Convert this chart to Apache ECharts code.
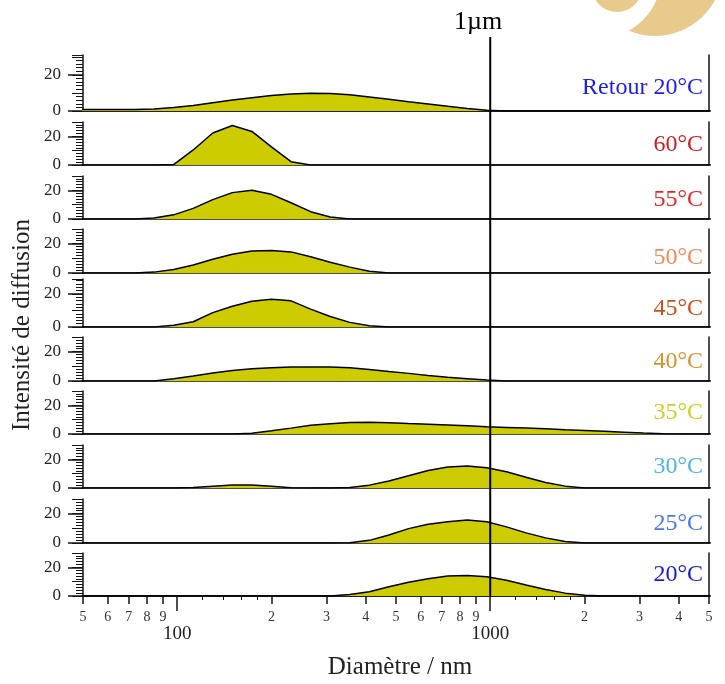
<!DOCTYPE html>
<html>
<head>
<meta charset="utf-8">
<script src="https://cdn.jsdelivr.net/npm/echarts@6/dist/echarts.min.js"></script>
<style>
  html, body { margin: 0; padding: 0; background: #fff; }
  #main { width: 725px; height: 684px; }
</style>
</head>
<body>
<div id="main"></div>
<script>
// diamètres (nm), grille commune des courbes
var diam = [47.4, 54.7, 63.2, 73.0, 84.3, 97.4, 112.5, 129.9, 150, 173.2, 200, 231, 266.8, 308.1, 355.9, 411, 474.7, 548.3,
            633.2, 731.3, 844.6, 975.5, 1127, 1301, 1503, 1736, 2005, 2315, 2674, 3088, 3567, 4119, 4757, 5494];

// intensités, de haut en bas
var vRetour20 = [0.8, 0.8, 0.8, 0.8, 1.1, 2.0, 3.1, 4.6, 6.1, 7.4, 8.6, 9.4, 9.8, 9.7, 9.0, 7.8, 6.5, 5.1, 3.9, 2.6, 1.4, 0.4, 0, 0, 0, 0, 0, 0, 0, 0, 0, 0, 0, 0];
var v60 = [0, 0, 0, 0, 0, 0.3, 10.5, 22.3, 27.6, 23.4, 12.6, 2.3, 0, 0, 0, 0, 0, 0, 0, 0, 0, 0, 0, 0, 0, 0, 0, 0, 0, 0, 0, 0, 0, 0];
var v55 = [0, 0, 0, 0, 0.7, 2.9, 7.4, 13.5, 18.4, 20.0, 17.2, 11.3, 5.1, 1.4, 0, 0, 0, 0, 0, 0, 0, 0, 0, 0, 0, 0, 0, 0, 0, 0, 0, 0, 0, 0];
var v50 = [0, 0, 0, 0, 0.6, 2.4, 5.4, 9.4, 12.8, 15.0, 15.4, 14.4, 11.1, 7.3, 4.0, 1.2, 0, 0, 0, 0, 0, 0, 0, 0, 0, 0, 0, 0, 0, 0, 0, 0, 0, 0];
var v45 = [0, 0, 0, 0, 0, 1.0, 3.2, 8.7, 12.5, 15.6, 16.7, 15.8, 10.8, 6.3, 2.8, 0.8, 0, 0, 0, 0, 0, 0, 0, 0, 0, 0, 0, 0, 0, 0, 0, 0, 0, 0];
var v40 = [0, 0, 0, 0, 0, 1.6, 3.4, 5.5, 7.2, 8.4, 9.1, 9.5, 9.6, 9.5, 9.0, 7.9, 6.5, 5.2, 3.8, 2.6, 1.6, 0.6, 0, 0, 0, 0, 0, 0, 0, 0, 0, 0, 0, 0];
var v35 = [0, 0, 0, 0, 0, 0, 0, 0, 0, 0.6, 2.3, 4.1, 6.1, 7.2, 8.0, 8.2, 7.9, 7.3, 6.8, 6.3, 5.8, 5.1, 4.6, 4.1, 3.6, 3.0, 2.5, 1.9, 1.3, 0.7, 0.2, 0, 0, 0];
var v30 = [0, 0, 0, 0, 0, 0, 0.3, 1.3, 2.1, 2.1, 1.3, 0.1, 0, 0, 0.3, 2.0, 4.9, 8.5, 12.2, 14.7, 15.3, 14.2, 11.3, 7.5, 3.8, 1.3, 0, 0, 0, 0, 0, 0, 0, 0];
var v25 = [0, 0, 0, 0, 0, 0, 0, 0, 0, 0, 0, 0, 0, 0, 0.2, 1.8, 5.5, 9.8, 12.8, 14.5, 15.6, 14.5, 11.0, 6.9, 3.5, 1.0, 0, 0, 0, 0, 0, 0, 0, 0];
var v20 = [0, 0, 0, 0, 0, 0, 0, 0, 0, 0, 0, 0, 0, 0, 1.0, 3.0, 6.4, 9.6, 12.0, 14.0, 14.3, 13.5, 11.0, 7.7, 4.5, 2.0, 0.5, 0, 0, 0, 0, 0, 0, 0];

var allValues = [vRetour20, v60, v55, v50, v45, v40, v35, v30, v25, v20];
var panelNames = ['Retour 20°C', '60°C', '55°C', '50°C', '45°C', '40°C', '35°C', '30°C', '25°C', '20°C'];

// graduations de l'axe des diamètres
var tickMid = [50, 60, 70, 80, 90, 200, 300, 400, 500, 600, 700, 800, 900, 2000, 3000, 4000, 5000];
var tickDecade = [100, 1000];
var tickSmall = [120, 140, 160, 180, 1200, 1400, 1600, 1800];
var yLabels = [0, 20];

// mise en page
var panelColors = ['#1c1cf0', '#cc1f24', '#e82424', '#f08a5c', '#d24c14', '#d6952c', '#cfcf26', '#52b2e2', '#4a78ee', '#1a1ad8'];
var panelTop = [55, 122, 176, 229, 279, 337, 391, 445, 499, 553];
var panelBase = [111, 165, 219, 273, 327, 381, 434, 488, 543, 596];
var panelMax = [31, 30, 30, 30, 29, 30, 30, 30, 30, 30];
var labelY = [88, 145, 200, 258, 309, 362, 413, 467, 524, 575];

var serif = 'Liberation Serif';
var ink = '#151515';
var n = panelNames.length;

var chart = echarts.init(document.getElementById('main'), null, {renderer: 'canvas'});

var grids = [], xAxes = [], yAxes = [], series = [];
for (var i = 0; i < n; i++) {
    grids.push({left: 83, right: 16, top: panelTop[i], height: panelBase[i] - panelTop[i], outerBoundsMode: 'none'});
    xAxes.push({
        gridIndex: i, type: 'log', logBase: 10, min: 50, max: 5000, position: 'bottom',
        axisLine: {show: true, onZero: false, lineStyle: {color: ink, width: 1.5}},
        axisTick: {show: false}, axisLabel: {show: false}, splitLine: {show: false}
    });
    // axe gauche avec graduations fines
    yAxes.push({
        gridIndex: i, type: 'value', min: 0, max: panelMax[i], interval: 10, position: 'left',
        axisLine: {show: true, lineStyle: {color: ink, width: 1.5}},
        axisTick: {show: true, length: 11, lineStyle: {color: ink, width: 1}},
        minorTick: {show: true, splitNumber: 5, length: 7, lineStyle: {color: ink, width: 1}},
        axisLabel: {
            margin: 22, fontSize: 17, fontFamily: serif, color: '#222',
            formatter: function (v) { return yLabels.indexOf(v) >= 0 ? String(v) : ''; }
        },
        splitLine: {show: false}
    });
    // graduations longues à 0 et 20
    yAxes.push({
        gridIndex: i, type: 'value', min: 0, max: panelMax[i], interval: 10, position: 'left',
        axisLine: {show: false},
        axisTick: {show: true, length: 15, customValues: yLabels, lineStyle: {color: ink, width: 1.5}},
        axisLabel: {show: false}, splitLine: {show: false}
    });
    // bord droit
    yAxes.push({
        gridIndex: i, type: 'value', min: 0, max: panelMax[i], position: 'right',
        axisLine: {show: true, lineStyle: {color: ink, width: 1.5}},
        axisTick: {show: false}, axisLabel: {show: false}, splitLine: {show: false}
    });
    series.push({
        type: 'line', xAxisIndex: i, yAxisIndex: 3 * i,
        data: diam.map(function (d, k) { return [d, allValues[i][k]]; }),
        symbol: 'none', clip: true,
        lineStyle: {color: '#000', width: 1.5},
        areaStyle: {color: '#cccc00', opacity: 1},
        z: 3
    });
}

// bord supérieur du premier panneau
xAxes.push({
    gridIndex: 0, type: 'log', min: 50, max: 5000, position: 'top',
    axisLine: {show: true, lineStyle: {color: ink, width: 1.5}},
    axisTick: {show: false}, axisLabel: {show: false}, splitLine: {show: false}
});

// axe des diamètres (dernier panneau)
var last = n - 1;
xAxes.push({
    gridIndex: last, type: 'log', min: 50, max: 5000, position: 'bottom', offset: 2,
    axisLine: {show: true, lineStyle: {color: ink, width: 1.5}},
    axisTick: {show: true, length: 8, customValues: tickMid, lineStyle: {color: ink, width: 1.5}},
    axisLabel: {
        show: true, customValues: tickMid, margin: 12, fontSize: 14, fontFamily: serif, color: '#333',
        formatter: function (v) { return String(Math.round(v / Math.pow(10, Math.floor(Math.log10(v) + 1e-9)))); }
    },
    splitLine: {show: false}
});
xAxes.push({
    gridIndex: last, type: 'log', min: 50, max: 5000, position: 'bottom', offset: 2,
    axisLine: {show: false},
    axisTick: {show: true, length: 15, customValues: tickDecade, lineStyle: {color: ink, width: 1.5}},
    axisLabel: {
        show: true, customValues: tickDecade, margin: 27, fontSize: 19, fontFamily: serif, color: '#222',
        formatter: function (v) { return String(Math.round(v)); }
    },
    splitLine: {show: false}
});
xAxes.push({
    gridIndex: last, type: 'log', min: 50, max: 5000, position: 'bottom', offset: 2,
    axisLine: {show: false},
    axisTick: {show: true, length: 4, customValues: tickSmall, lineStyle: {color: ink, width: 1}},
    axisLabel: {show: false}, splitLine: {show: false}
});

chart.setOption({
    backgroundColor: '#fff',
    animation: false,
    grid: grids,
    xAxis: xAxes,
    yAxis: yAxes,
    series: series
});

// ligne verticale 1 µm, placée avec l'échelle de l'axe
var x1um = chart.convertToPixel({xAxisIndex: 0}, 1000);

var graphics = [
    // logo en haut à droite
    {type: 'circle', shape: {cx: 655, cy: -32, r: 68}, style: {fill: '#e8ca8c'}, z: 0},
    {type: 'circle', shape: {cx: 597, cy: -26, r: 65}, style: {fill: '#fff'}, z: 0},
    {type: 'circle', shape: {cx: 617, cy: -13, r: 25}, style: {fill: '#e8ca8c'}, z: 0},
    {type: 'line', shape: {x1: x1um, y1: 37, x2: x1um, y2: panelBase[last]}, style: {stroke: '#000', lineWidth: 2}, z: 10},
    {type: 'text', x: x1um - 12, y: 22, style: {text: '1µm', font: '26px "' + serif + '"', fill: '#000', align: 'center', verticalAlign: 'middle'}, z: 10},
    {type: 'text', x: 400, y: 667, style: {text: 'Diamètre / nm', font: '25px "' + serif + '"', fill: '#222', align: 'center', verticalAlign: 'middle'}},
    {type: 'text', x: 22, y: 325, rotation: Math.PI / 2, style: {text: 'Intensité de diffusion', font: '25px "' + serif + '"', fill: '#222', align: 'center', verticalAlign: 'middle'}}
];
for (var j = 0; j < n; j++) {
    graphics.push({
        type: 'text', x: 703, y: labelY[j], z: 10,
        style: {text: panelNames[j], font: '24px "' + serif + '"', fill: panelColors[j], align: 'right', verticalAlign: 'middle'}
    });
}
chart.setOption({graphic: graphics});
</script>
</body>
</html>
